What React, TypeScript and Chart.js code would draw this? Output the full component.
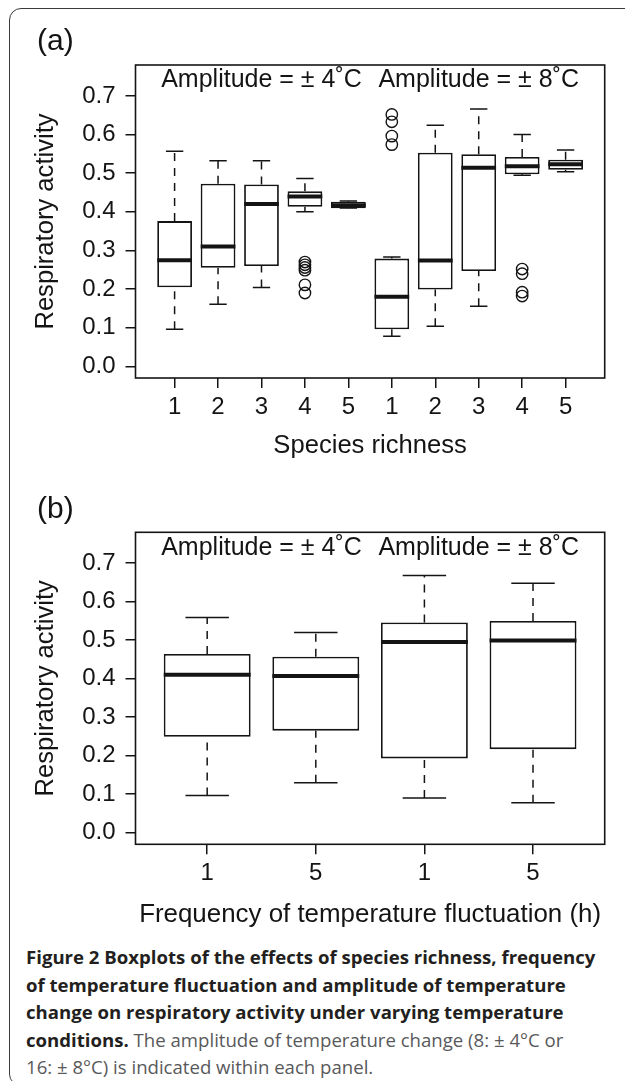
import React, { useEffect, useRef } from "react";
import { Chart, registerables } from "chart.js";

Chart.register(...registerables);

// ---------- data ----------
const yTicks = [0, 0.1, 0.2, 0.3, 0.4, 0.5, 0.6, 0.7];

// Panel (a): species richness within amplitude
const categoriesA = ["1", "2", "3", "4", "5", "1", "2", "3", "4", "5"];
const whiskerLowA = [0.096, 0.161, 0.204, 0.4, 0.41, 0.078, 0.104, 0.156, 0.495, 0.504];
const q1A = [0.205, 0.255, 0.26, 0.413, 0.409, 0.096, 0.199, 0.247, 0.497, 0.509];
const medianA = [0.275, 0.31, 0.42, 0.44, 0.417, 0.18, 0.274, 0.514, 0.518, 0.523];
const q3A = [0.376, 0.473, 0.471, 0.453, 0.426, 0.279, 0.553, 0.549, 0.542, 0.535];
const whiskerHighA = [0.557, 0.532, 0.532, 0.486, 0.428, 0.283, 0.624, 0.666, 0.6, 0.56];
const outlierGroupA = [4, 4, 4, 4, 4, 4, 6, 6, 6, 6, 9, 9, 9, 9];
const outlierValueA = [0.27, 0.263, 0.256, 0.249, 0.211, 0.19, 0.652, 0.633, 0.596, 0.574, 0.252, 0.24, 0.192, 0.182];

// Panel (b): frequency of temperature fluctuation within amplitude
const categoriesB = ["1", "5", "1", "5"];
const whiskerLowB = [0.097, 0.13, 0.09, 0.078];
const q1B = [0.249, 0.265, 0.193, 0.217];
const medianB = [0.41, 0.407, 0.495, 0.499];
const q3B = [0.464, 0.457, 0.546, 0.55];
const whiskerHighB = [0.559, 0.52, 0.668, 0.648];
const outlierGroupB: number[] = [];
const outlierValueB: number[] = [];

const amplitudeLabels = ["Amplitude = ± 4˚C", "Amplitude = ± 8˚C"];
const amplitudePosA = [3, 8];
const amplitudePosB = [1.5, 3.5];
const amplitudeY = 0.722;

const FONT = "'Liberation Sans', Arial, Helvetica, sans-serif";
const INK = "#141414";

type PanelProps = {
  letter: string;
  categories: string[];
  lo: number[];
  q1: number[];
  med: number[];
  q3: number[];
  hi: number[];
  outGroup: number[];
  outVal: number[];
  annotPos: number[];
  xTitle: string;
  xTitleSize: number;
  top: number;
  height: number;
  padTop: number;
  xAxisHeight: number;
  xTitlePad: number;
  letterY: number;
};

function BoxPanel(p: PanelProps) {
  const ref = useRef<HTMLCanvasElement | null>(null);
  useEffect(() => {
    if (!ref.current) return;
    const n = p.categories.length;
    const extras = {
      id: "boxExtras",
      afterDatasetsDraw(chart: any) {
        const { ctx, chartArea } = chart;
        const xs = chart.scales.x;
        const ys = chart.scales.y;
        const meta = chart.getDatasetMeta(0);
        ctx.save();
        ctx.strokeStyle = INK;
        meta.data.forEach((bar: any, i: number) => {
          const props = bar.getProps(["x", "width"], true);
          const cx = props.x;
          const half = props.width / 2;
          // whiskers (dashed)
          ctx.lineWidth = 1.5;
          ctx.setLineDash([8, 7]);
          ctx.beginPath();
          ctx.moveTo(cx, ys.getPixelForValue(p.q3[i]));
          ctx.lineTo(cx, ys.getPixelForValue(p.hi[i]));
          ctx.moveTo(cx, ys.getPixelForValue(p.lo[i]));
          ctx.lineTo(cx, ys.getPixelForValue(p.q1[i]));
          ctx.stroke();
          ctx.setLineDash([]);
          // staples
          ctx.beginPath();
          ctx.moveTo(cx - half / 2, ys.getPixelForValue(p.hi[i]));
          ctx.lineTo(cx + half / 2, ys.getPixelForValue(p.hi[i]));
          ctx.moveTo(cx - half / 2, ys.getPixelForValue(p.lo[i]));
          ctx.lineTo(cx + half / 2, ys.getPixelForValue(p.lo[i]));
          ctx.stroke();
          // median
          ctx.lineWidth = 4;
          ctx.beginPath();
          ctx.moveTo(cx - half, ys.getPixelForValue(p.med[i]));
          ctx.lineTo(cx + half, ys.getPixelForValue(p.med[i]));
          ctx.stroke();
        });
        // frame of plot region
        ctx.lineWidth = 1.6;
        ctx.strokeRect(chartArea.left, chartArea.top, chartArea.right - chartArea.left, chartArea.bottom - chartArea.top);
        // amplitude annotations
        ctx.fillStyle = INK;
        ctx.font = `25px ${FONT}`;
        ctx.textAlign = "center";
        ctx.textBaseline = "alphabetic";
        amplitudeLabels.forEach((t, k) => {
          ctx.fillText(t, xs.getPixelForValue(p.annotPos[k]), ys.getPixelForValue(amplitudeY));
        });
        // panel letter
        ctx.font = `30px ${FONT}`;
        ctx.textAlign = "left";
        ctx.textBaseline = "middle";
        ctx.fillText(p.letter, 37, p.letterY);
        ctx.restore();
      },
    };

    const datasets: any[] = [
      {
        type: "bar",
        data: p.categories.map((_, i) => ({ x: i + 1, y: [p.q1[i], p.q3[i]] })),
        backgroundColor: "#ffffff",
        borderColor: INK,
        borderWidth: 1.8,
        borderSkipped: false,
        barPercentage: 0.8,
        categoryPercentage: 1,
      },
    ];
    if (p.outVal.length) {
      datasets.push({
        type: "scatter",
        data: p.outVal.map((v, k) => ({ x: p.outGroup[k], y: v })),
        pointStyle: "circle",
        pointRadius: 5.7,
        pointBorderWidth: 1.4,
        pointBackgroundColor: "rgba(0,0,0,0)",
        pointBorderColor: INK,
        showLine: false,
      });
    }

    const tickFont = { family: FONT, size: 24 };
    const chart = new Chart(ref.current, {
      type: "bar",
      data: { datasets },
      plugins: [extras],
      options: {
        animation: false,
        responsive: false,
        events: [],
        layout: { padding: { left: 0, right: 20.3, top: p.padTop, bottom: 0 } },
        plugins: { legend: { display: false }, tooltip: { enabled: false } },
        scales: {
          x: {
            type: "linear",
            min: 0.5 - 0.04 * n,
            max: n + 0.5 + 0.04 * n,
            offset: false,
            bounds: "data",
            afterBuildTicks: (s: any) => {
              s.ticks = p.categories.map((_, i) => ({ value: i + 1 }));
            },
            afterFit: (s: any) => {
              s.height = p.xAxisHeight;
            },
            ticks: {
              autoSkip: false,
              maxRotation: 0,
              padding: 5,
              color: INK,
              font: tickFont,
              callback: (_v: any, i: number) => p.categories[i],
            },
            grid: { offset: false, drawOnChartArea: false, drawTicks: true, tickLength: 10, color: INK, lineWidth: 1.5 },
            border: { display: false },
            title: {
              display: true,
              text: p.xTitle,
              color: INK,
              font: { family: FONT, size: p.xTitleSize },
              padding: { top: 0, bottom: p.xTitlePad },
            },
          },
          y: {
            type: "linear",
            min: -0.03,
            max: 0.78,
            bounds: "data",
            afterBuildTicks: (s: any) => {
              s.ticks = yTicks.map((v) => ({ value: v }));
            },
            afterFit: (s: any) => {
              s.width = 135.5;
            },
            ticks: {
              padding: 10,
              color: INK,
              font: tickFont,
              callback: (v: any) => Number(v).toFixed(1),
            },
            grid: { drawOnChartArea: false, drawTicks: true, tickLength: 10, color: INK, lineWidth: 1.5 },
            border: { display: false },
            title: {
              display: true,
              text: "Respiratory activity",
              color: INK,
              font: { family: FONT, size: 25.6 },
              padding: { top: 31, bottom: 0 },
            },
          },
        },
      } as any,
    });
    return () => chart.destroy();
  }, []);
  return (
    <canvas
      ref={ref}
      width={625}
      height={p.height}
      style={{ position: "absolute", left: 0, top: p.top, width: 625, height: p.height }}
    />
  );
}

const captionLines = [
  [{ b: true, t: "Figure 2 Boxplots of the effects of species richness, frequency" }],
  [{ b: true, t: "of temperature fluctuation and amplitude of temperature" }],
  [{ b: true, t: "change on respiratory activity under varying temperature" }],
  [{ b: true, t: "conditions." }, { b: false, t: " The amplitude of temperature change (8: ± 4°C or" }],
  [{ b: false, t: "16: ± 8°C) is indicated within each panel." }],
];

export default function App() {
  return (
    <div style={{ position: "absolute", left: 0, top: 0, width: 625, height: 1081, overflow: "hidden", background: "#fff" }}>
      <div
        style={{
          position: "absolute",
          left: 9,
          top: 7.5,
          width: 660,
          height: 1078,
          border: "1.6px solid #3a3a3a",
          borderRadius: 12,
          boxSizing: "border-box",
        }}
      />
      <BoxPanel
        letter="(a)"
        categories={categoriesA}
        lo={whiskerLowA}
        q1={q1A}
        med={medianA}
        q3={q3A}
        hi={whiskerHighA}
        outGroup={outlierGroupA}
        outVal={outlierValueA}
        annotPos={amplitudePosA}
        xTitle="Species richness"
        xTitleSize={25.6}
        top={0}
        height={470}
        padTop={65}
        xAxisHeight={92}
        xTitlePad={8.6}
        letterY={42}
      />
      <BoxPanel
        letter="(b)"
        categories={categoriesB}
        lo={whiskerLowB}
        q1={q1B}
        med={medianB}
        q3={q3B}
        hi={whiskerHighB}
        outGroup={outlierGroupB}
        outVal={outlierValueB}
        annotPos={amplitudePosB}
        xTitle="Frequency of temperature fluctuation (h)"
        xTitleSize={25.9}
        top={470}
        height={470}
        padTop={62.3}
        xAxisHeight={95.7}
        xTitlePad={9.6}
        letterY={40}
      />
      <div
        style={{
          position: "absolute",
          left: 26,
          top: 943,
          fontFamily: "'Open Sans', 'Noto Sans', sans-serif",
          fontSize: 18.6,
          lineHeight: "27.5px",
          color: "#231f20",
          whiteSpace: "nowrap",
        }}
      >
        {captionLines.map((line, i) => (
          <div key={i}>
            {line.map((seg: any, j) => (
              <span
                key={j}
                style={{
                  fontWeight: seg.b ? 700 : 400,
                  color: seg.b ? "#231f20" : "#58595b",
                }}
              >
                {seg.t}
              </span>
            ))}
          </div>
        ))}
      </div>
    </div>
  );
}
